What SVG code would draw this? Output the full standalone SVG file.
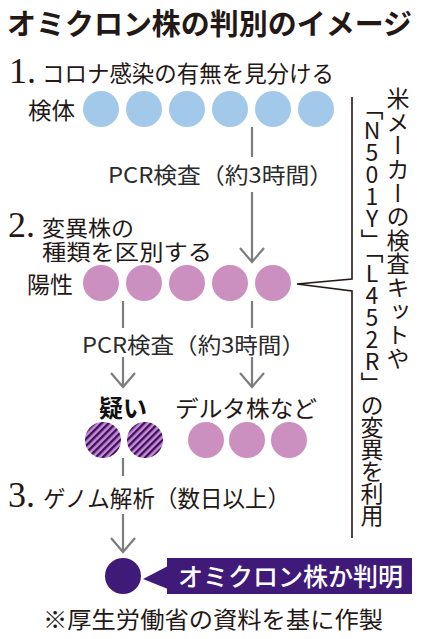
<svg xmlns="http://www.w3.org/2000/svg" width="421" height="639" viewBox="0 0 421 639">
<style>
.t{font-family:"Noto Sans CJK JP","Noto Sans",sans-serif;fill:#231815;font-size:23px}
.num{font-family:"Liberation Serif",serif;fill:#231815;font-size:36px}
.g{font-family:"Noto Sans CJK JP","Noto Sans",sans-serif;fill:#2b2b2b;font-size:22px}
.ar{stroke:#7d7d7d;stroke-width:2.2;fill:none}
.blue{fill:#a2c9ea}
.pink{fill:#cc90c0}
.v{font-family:"Noto Sans CJK JP",sans-serif;fill:#231815;font-size:23px;writing-mode:vertical-rl;text-orientation:upright}
</style>
<defs>
<pattern id="hatch" width="5" height="5" patternUnits="userSpaceOnUse" patternTransform="rotate(45)">
<rect width="5" height="5" fill="#c88ad8"/>
<rect width="2.4" height="5" fill="#3b1258"/>
</pattern>
</defs>
<rect width="421" height="639" fill="#ffffff"/>
<text id="title" x="7" y="35" class="t" style="font-size:29px;font-weight:bold" textLength="405" lengthAdjust="spacingAndGlyphs">オミクロン株の判別のイメージ</text>

<g id="step1">
<text x="9" y="83" class="num">1.</text>
<text x="42" y="82" class="t" textLength="292" lengthAdjust="spacingAndGlyphs">コロナ感染の有無を見分ける</text>
</g>
<g id="specimen">
<text x="28" y="119" class="t" textLength="47" lengthAdjust="spacingAndGlyphs">検体</text>
<circle class="blue" cx="101" cy="109" r="18"/>
<circle class="blue" cx="144" cy="109" r="18"/>
<circle class="blue" cx="187" cy="109" r="18"/>
<circle class="blue" cx="230" cy="109" r="18"/>
<circle class="blue" cx="273" cy="109" r="18"/>
<circle class="blue" cx="316" cy="109" r="18"/>
</g>

<g id="connectors">
<path class="ar" d="M252,127V157M252,192V262M240,248L252,262L264,248"/>
<path class="ar" d="M123,301V328M123,357V387M111,373L123,387L135,373"/>
<path class="ar" d="M252,301V328M252,357V387M240,373L252,387L264,373"/>
<path class="ar" d="M123,458V476M123,514V552M111,538L123,552L135,538"/>
<path d="M352,97V279L297,284L352,291V538" fill="none" stroke="#231815" stroke-width="1.6"/>
</g>

<g id="pcr1"><text x="108" y="183" class="g" textLength="225" lengthAdjust="spacingAndGlyphs">PCR検査（約3時間）</text></g>

<g id="step2">
<text x="8" y="237" class="num">2.</text>
<text class="t" style="font-size:22px"><tspan x="42" y="236" textLength="92" lengthAdjust="spacingAndGlyphs">変異株の</tspan><tspan x="42" y="260" textLength="170" lengthAdjust="spacingAndGlyphs">種類を区別する</tspan></text>
</g>
<g id="positive">
<text x="27" y="293" class="t" textLength="46" lengthAdjust="spacingAndGlyphs">陽性</text>
<circle class="pink" cx="101" cy="283" r="18"/>
<circle class="pink" cx="144" cy="283" r="18"/>
<circle class="pink" cx="187" cy="283" r="18"/>
<circle class="pink" cx="230" cy="283" r="18"/>
<circle class="pink" cx="273" cy="283" r="18"/>
</g>

<g id="pcr2"><text x="82" y="353" class="g" textLength="223" lengthAdjust="spacingAndGlyphs">PCR検査（約3時間）</text></g>

<g id="suspect">
<text x="99" y="417" class="t" style="font-weight:bold;fill:#111;font-size:24px" textLength="48" lengthAdjust="spacingAndGlyphs">疑い</text>
<circle cx="103" cy="440" r="18" fill="url(#hatch)"/>
<circle cx="145" cy="440" r="18" fill="url(#hatch)"/>
</g>
<g id="delta">
<text x="175" y="417" class="t" textLength="142" lengthAdjust="spacingAndGlyphs">デルタ株など</text>
<circle class="pink" cx="206" cy="440" r="18"/>
<circle class="pink" cx="247" cy="440" r="18"/>
<circle class="pink" cx="289" cy="440" r="18"/>
</g>

<g id="step3">
<text x="8" y="507" class="num">3.</text>
<text x="43" y="507" class="t" textLength="247" lengthAdjust="spacingAndGlyphs">ゲノム解析（数日以上）</text>
</g>

<g id="result">
<circle cx="123" cy="576" r="18" fill="#401a78"/>
<polygon points="143,579 168,566 168,589" fill="#401a78"/>
<rect x="167" y="558" width="245" height="36" fill="#401a78"/>
<text x="178" y="586" class="t" style="fill:#ffffff;font-size:25px;font-weight:500" textLength="225" lengthAdjust="spacingAndGlyphs">オミクロン株か判明</text>
</g>

<g id="note">
<text x="398" y="87" class="v" style="letter-spacing:0.6px">米メーカーの検査キットや</text>
<text x="372" y="97" class="v" style="letter-spacing:-1px">「N501Y」「L452R」の変異を利用</text>
</g>

<text id="source" x="43" y="628" class="t" textLength="340" lengthAdjust="spacingAndGlyphs">※厚生労働省の資料を基に作製</text>
</svg>
